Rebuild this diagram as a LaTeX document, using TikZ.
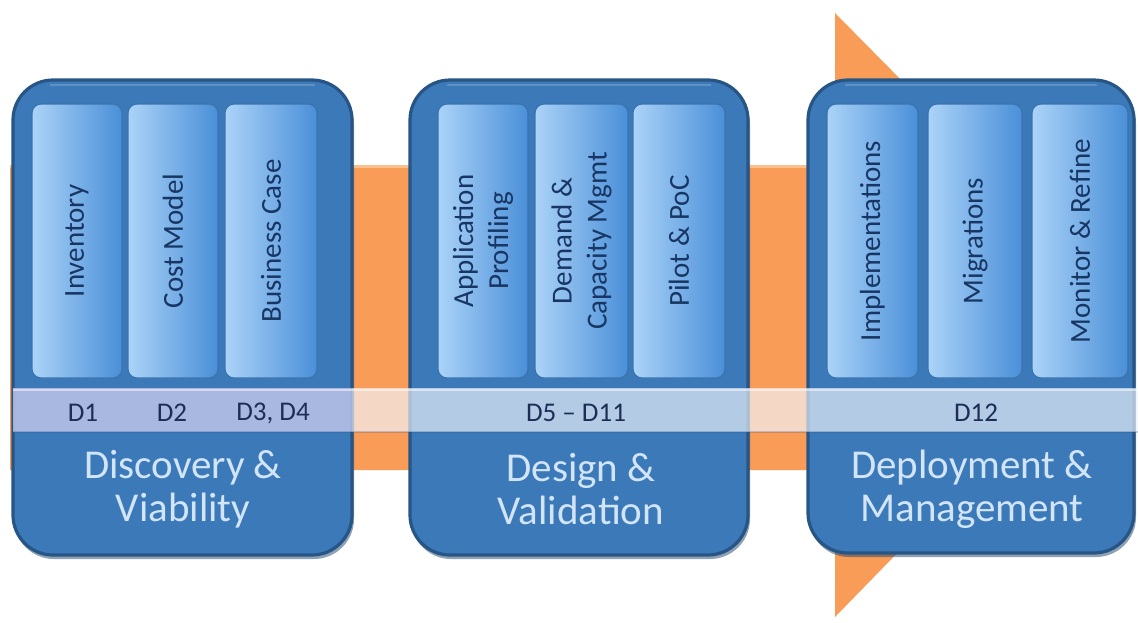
\documentclass[tikz,border=0pt]{standalone}
\usepackage{fontspec}
\setmainfont{Carlito}
\usetikzlibrary{calc}
\definecolor{orng}{HTML}{F89C58}
\definecolor{orngl}{HTML}{FCBF8E}
\definecolor{boxface}{HTML}{3C79B8}
\definecolor{boxrim}{HTML}{3570AE}
\definecolor{boxdark}{HTML}{275585}
\definecolor{colL}{HTML}{ABD3F8}
\definecolor{colR}{HTML}{4A8FD8}
\definecolor{colline}{HTML}{3A74B0}
\definecolor{coltxt}{HTML}{183663}
\definecolor{titletxt}{HTML}{D2E5F8}
\definecolor{dtxt}{HTML}{1E2D55}
\definecolor{bandbase}{HTML}{F2F6FD}
\definecolor{bandtint}{HTML}{8A78D6}
\tikzset{
  phasebox/.style={fill=boxface, draw=boxdark, line width=1.6pt, rounded corners=20pt},
  boxshadow/.style={fill=boxdark!80!black, opacity=0.5, rounded corners=20pt},
  colbox/.style={left color=colL, right color=colR, draw=colline, line width=0.6pt, rounded corners=4.5pt},
  coltext/.style={rotate=90, text=coltxt, align=center, font=\fontsize{14.5}{17.5}\selectfont, inner sep=0pt},
  dlabel/.style={text=dtxt, font=\fontsize{13.5}{16}\selectfont, inner sep=0pt},
  titlelabel/.style={text=titletxt, align=center, font=\fontsize{20.5}{21.5}\selectfont, inner sep=0pt},
}
\newcommand\mycolumn[4]{%
  \path[colbox] (#1,104) rectangle (#2,378);
  \node[coltext] (#3) at ({(#1+#2)/2},241) {#4};}
\begin{document}
\begin{tikzpicture}[x=0.5pt,y=-0.5pt]
\useasboundingbox (0,0) rectangle (1138,622);
% orange arrow
\fill[orng] (10,165) -- (835,165) -- (835,13) -- (1131,313) -- (835,617) -- (835,470) -- (10,470) -- cycle;
\draw[orngl, line width=1.2pt] (10,166.5) -- (835,166.5);
% box shadows
\fill[boxshadow] (14,84) rectangle (354,559);
\fill[boxshadow] (411,84) rectangle (750,559);
\fill[boxshadow] (809,84) rectangle (1136,557);
% boxes
\path[phasebox] (13,80) rectangle (352,555);
\path[phasebox] (410,80) rectangle (748,555);
\path[phasebox] (808,80) rectangle (1134,553);
% top highlights of boxes
\draw[boxrim!60!white, line width=1pt, opacity=0.5] (50,85) -- (315,85);
\draw[boxrim!60!white, line width=1pt, opacity=0.5] (447,85) -- (711,85);
\draw[boxrim!60!white, line width=1pt, opacity=0.5] (845,85) -- (1097,85);
% columns
\mycolumn{32}{122}{inv}{Inventory}
\mycolumn{128}{218}{cost}{Cost Model}
\mycolumn{225}{317}{bcase}{Business Case}
\mycolumn{438}{528}{appl}{Application\\Profiling}
\mycolumn{535}{628}{dem}{Demand \&\\Capacity Mgmt}
\mycolumn{633}{725}{pilot}{Pilot \& PoC}
\mycolumn{827}{918}{impl}{Implementations}
\mycolumn{928}{1022}{migr}{Migrations}
\mycolumn{1032}{1128}{mon}{Monitor \& Refine}
% band
\fill[bandbase, fill opacity=0.66] (13,388) rectangle (1138,432);
\fill[bandtint, fill opacity=0.22] (13,388) rectangle (352,432);
\draw[white, opacity=0.5, line width=1pt] (13,389.5) -- (1138,389.5);
\draw[boxdark, opacity=0.25, line width=0.8pt] (13,432) -- (1138,432);
% D labels
\node[dlabel] (d1) at (83,413) {D1};
\node[dlabel] (d2) at (172,413) {D2};
\node[dlabel] (d34) at (273,413) {D3, D4};
\node[dlabel] (d511) at (576,413) {D5 – D11};
\node[dlabel] (d12) at (976,413) {D12};
% titles
\node[titlelabel] (t1) at (183,489) {Discovery \&\\Viability};
\node[titlelabel] (t2) at (581,489) {Design \&\\Validation};
\node[titlelabel] (t3) at (972,489) {Deployment \&\\Management};
\end{tikzpicture}
\end{document}
